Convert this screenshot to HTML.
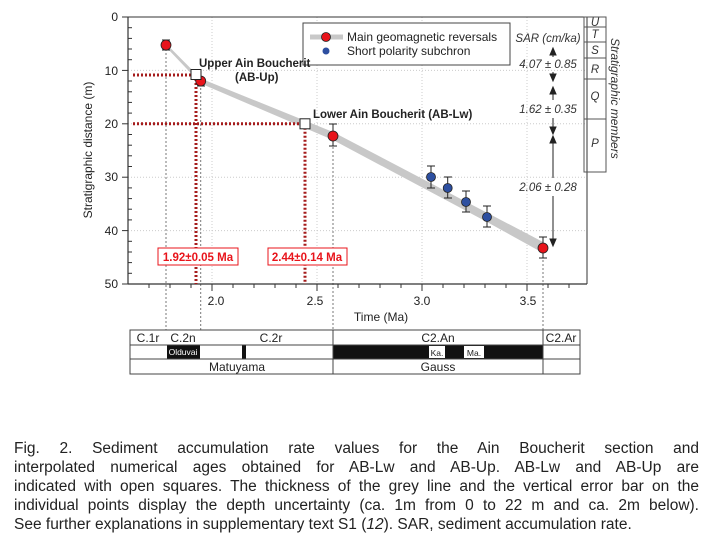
<!DOCTYPE html><html><head><meta charset="utf-8"><style>
body{margin:0;background:#fff;width:704px;height:554px;overflow:hidden;font-family:"Liberation Sans",sans-serif}
.cap{position:absolute;left:14px;width:685px;font-size:15.5px;color:#222;line-height:19px}
.cap div{text-align:justify;text-align-last:justify;white-space:nowrap}
.cap div.l{text-align-last:left}
</style></head><body>
<svg width="704" height="430" style="position:absolute;left:0;top:0" font-family="Liberation Sans, sans-serif">
<g stroke="#ccc" stroke-dasharray="1,2" stroke-width="1">
<line x1="128" y1="70.4" x2="587" y2="70.4"/><line x1="128" y1="123.8" x2="587" y2="123.8"/><line x1="128" y1="177.2" x2="587" y2="177.2"/><line x1="128" y1="230.6" x2="587" y2="230.6"/>
<line x1="212" y1="17" x2="212" y2="284"/><line x1="317" y1="17" x2="317" y2="284"/><line x1="422" y1="17" x2="422" y2="284"/><line x1="527" y1="17" x2="527" y2="284"/>
</g>
<g stroke="#777" stroke-dasharray="2,2" stroke-width="1">
<line x1="166" y1="45" x2="166" y2="330"/><line x1="200.7" y1="80" x2="200.7" y2="330"/><line x1="333" y1="135" x2="333" y2="330"/><line x1="543" y1="248" x2="543" y2="330"/>
</g>
<line x1="128" y1="17" x2="128" y2="284" stroke="#333" stroke-width="1.2"/>
<line x1="128" y1="284" x2="587" y2="284" stroke="#333" stroke-width="1.2"/>
<line x1="587" y1="17" x2="587" y2="284" stroke="#333" stroke-width="1"/>
<line x1="128" y1="17" x2="587" y2="17" stroke="#333" stroke-width="1"/>
<g stroke="#333" stroke-width="1">
<line x1="122" y1="17" x2="128" y2="17"/><line x1="122" y1="70.4" x2="128" y2="70.4"/><line x1="122" y1="123.8" x2="128" y2="123.8"/><line x1="122" y1="177.2" x2="128" y2="177.2"/><line x1="122" y1="230.6" x2="128" y2="230.6"/><line x1="122" y1="284" x2="128" y2="284"/>
<line x1="128" y1="27.7" x2="132" y2="27.7"/><line x1="128" y1="38.4" x2="132" y2="38.4"/><line x1="128" y1="49" x2="132" y2="49"/><line x1="128" y1="59.7" x2="132" y2="59.7"/>
<line x1="128" y1="81" x2="132" y2="81"/><line x1="128" y1="91.8" x2="132" y2="91.8"/><line x1="128" y1="102.4" x2="132" y2="102.4"/><line x1="128" y1="113.1" x2="132" y2="113.1"/>
<line x1="128" y1="134.5" x2="132" y2="134.5"/><line x1="128" y1="145.2" x2="132" y2="145.2"/><line x1="128" y1="155.8" x2="132" y2="155.8"/><line x1="128" y1="166.5" x2="132" y2="166.5"/>
<line x1="128" y1="187.9" x2="132" y2="187.9"/><line x1="128" y1="198.6" x2="132" y2="198.6"/><line x1="128" y1="209.2" x2="132" y2="209.2"/><line x1="128" y1="219.9" x2="132" y2="219.9"/>
<line x1="128" y1="241.3" x2="132" y2="241.3"/><line x1="128" y1="252" x2="132" y2="252"/><line x1="128" y1="262.6" x2="132" y2="262.6"/><line x1="128" y1="273.3" x2="132" y2="273.3"/>
<line x1="212" y1="284" x2="212" y2="291"/><line x1="317" y1="284" x2="317" y2="291"/><line x1="422" y1="284" x2="422" y2="291"/><line x1="527" y1="284" x2="527" y2="291"/>
<line x1="149" y1="284" x2="149" y2="288"/><line x1="170" y1="284" x2="170" y2="288"/><line x1="191" y1="284" x2="191" y2="288"/><line x1="233" y1="284" x2="233" y2="288"/><line x1="254" y1="284" x2="254" y2="288"/><line x1="275" y1="284" x2="275" y2="288"/><line x1="296" y1="284" x2="296" y2="288"/><line x1="338" y1="284" x2="338" y2="288"/><line x1="359" y1="284" x2="359" y2="288"/><line x1="380" y1="284" x2="380" y2="288"/><line x1="401" y1="284" x2="401" y2="288"/><line x1="443" y1="284" x2="443" y2="288"/><line x1="464" y1="284" x2="464" y2="288"/><line x1="485" y1="284" x2="485" y2="288"/><line x1="506" y1="284" x2="506" y2="288"/><line x1="548" y1="284" x2="548" y2="288"/><line x1="569" y1="284" x2="569" y2="288"/>
</g>
<g font-size="12" fill="#222" text-anchor="end">
<text x="118" y="21">0</text><text x="118" y="75">10</text><text x="118" y="128">20</text><text x="118" y="181">30</text><text x="118" y="235">40</text><text x="118" y="288">50</text>
</g>
<g font-size="12" fill="#222" text-anchor="middle">
<text x="216" y="305">2.0</text><text x="315" y="305">2.5</text><text x="422" y="305">3.0</text><text x="528" y="305">3.5</text>
<text x="381" y="321">Time (Ma)</text>
</g>
<text transform="translate(92,150) rotate(-90)" font-size="12" fill="#222" text-anchor="middle">Stratigraphic distance (m)</text>
<polygon points="166,43.5 200.7,78.5 333,132 543,242 543,253 487,222 333,140 200.7,83.5 166,47" fill="#c8c8c8"/>
<g stroke="#a51c1c" stroke-width="3" stroke-dasharray="2,2">
<line x1="133" y1="75" x2="196" y2="75"/><line x1="196" y1="75" x2="196" y2="284"/>
<line x1="133" y1="123.8" x2="305" y2="123.8"/><line x1="305" y1="123.8" x2="305" y2="284"/>
</g>
<g stroke="#222" stroke-width="1">
<line x1="166" y1="40" x2="166" y2="50"/><line x1="162" y1="40" x2="170" y2="40"/><line x1="162" y1="50" x2="170" y2="50"/>
<line x1="200.7" y1="76" x2="200.7" y2="86"/><line x1="197" y1="86" x2="205" y2="86"/>
<line x1="333" y1="124" x2="333" y2="146"/><line x1="329" y1="124" x2="337" y2="124"/><line x1="329" y1="146" x2="337" y2="146"/>
<line x1="431" y1="166" x2="431" y2="188"/><line x1="427" y1="166" x2="435" y2="166"/><line x1="427" y1="188" x2="435" y2="188"/>
<line x1="447.7" y1="177" x2="447.7" y2="198"/><line x1="444" y1="177" x2="452" y2="177"/><line x1="444" y1="198" x2="452" y2="198"/>
<line x1="466" y1="191" x2="466" y2="212"/><line x1="462" y1="191" x2="470" y2="191"/><line x1="462" y1="212" x2="470" y2="212"/>
<line x1="487" y1="206" x2="487" y2="227"/><line x1="483" y1="206" x2="491" y2="206"/><line x1="483" y1="227" x2="491" y2="227"/>
<line x1="543" y1="237" x2="543" y2="258"/><line x1="539" y1="237" x2="547" y2="237"/><line x1="539" y1="258" x2="547" y2="258"/>
</g>
<g stroke="#222" stroke-width="0.8">
<circle cx="166" cy="45" r="5" fill="#e8141b"/><circle cx="200.7" cy="81" r="5" fill="#e8141b"/><circle cx="333" cy="136" r="5" fill="#e8141b"/><circle cx="543" cy="248" r="5" fill="#e8141b"/>
<circle cx="431" cy="177" r="4.5" fill="#2d4fa0"/><circle cx="447.7" cy="188" r="4.5" fill="#2d4fa0"/><circle cx="466" cy="202" r="4.5" fill="#2d4fa0"/><circle cx="487" cy="217" r="4.5" fill="#2d4fa0"/>
</g>
<rect x="191" y="69.5" width="10" height="10" fill="#fff" stroke="#222"/>
<rect x="300" y="118.8" width="10" height="10" fill="#fff" stroke="#222"/>
<rect x="158" y="248" width="80" height="17" fill="#fff" stroke="#e8141b"/>
<text x="198" y="261" font-size="11.5" font-weight="bold" fill="#e8141b" text-anchor="middle">1.92±0.05 Ma</text>
<rect x="268" y="248" width="79" height="17" fill="#fff" stroke="#e8141b"/>
<text x="307" y="261" font-size="11.5" font-weight="bold" fill="#e8141b" text-anchor="middle">2.44±0.14 Ma</text>
<rect x="303" y="23" width="207" height="42" fill="#fff" stroke="#444"/>
<line x1="310" y1="37" x2="343" y2="37" stroke="#c8c8c8" stroke-width="5"/>
<circle cx="326" cy="37" r="4.5" fill="#e8141b" stroke="#222" stroke-width="0.8"/>
<circle cx="326" cy="51" r="3.5" fill="#2d4fa0"/>
<text x="347" y="41" font-size="12" fill="#222">Main geomagnetic reversals</text>
<text x="347" y="55" font-size="12" fill="#222">Short polarity subchron</text>
<g font-size="11.5" font-weight="bold" fill="#222">
<text x="199" y="67">Upper Ain Boucherit</text><text x="235" y="81">(AB-Up)</text>
<text x="313" y="118">Lower Ain Boucherit (AB-Lw)</text>
</g>
<g font-size="11.5" font-style="italic" fill="#333" text-anchor="middle">
<text x="548" y="42">SAR (cm/ka)</text>
<text x="548" y="68">4.07 ± 0.85</text>
<text x="548" y="113">1.62 ± 0.35</text>
<text x="548" y="191">2.06 ± 0.28</text>
</g>
<g stroke="#222" stroke-width="1" fill="#222">
<line x1="553" y1="52" x2="553" y2="57"/><line x1="553" y1="72" x2="553" y2="76"/>
<line x1="553" y1="92" x2="553" y2="100"/><line x1="553" y1="118" x2="553" y2="128"/>
<line x1="553" y1="140" x2="553" y2="178"/><line x1="553" y1="196" x2="553" y2="240"/>
<path d="M553,48 l-3,7 h6z M553,81 l-3,-7 h6z M553,87 l-3,7 h6z M553,134 l-3,-7 h6z M553,136 l-3,7 h6z M553,246 l-3,-7 h6z"/>
</g>
<g stroke="#555" fill="none" stroke-width="1">
<rect x="584" y="17" width="22" height="155"/>
<line x1="584" y1="27" x2="606" y2="27"/><line x1="584" y1="42" x2="606" y2="42"/><line x1="584" y1="58" x2="606" y2="58"/><line x1="584" y1="79" x2="606" y2="79"/><line x1="584" y1="119" x2="606" y2="119"/>
</g>
<g font-size="11.5" font-style="italic" fill="#333" text-anchor="middle">
<text x="595" y="26">U</text><text x="595" y="38">T</text><text x="595" y="54">S</text><text x="595" y="73">R</text><text x="595" y="100">Q</text><text x="595" y="147">P</text>
</g>
<text transform="translate(611,38) rotate(90)" font-size="12" font-style="italic" fill="#333">Stratigraphic members</text>
<rect x="167" y="345" width="33" height="14" fill="#111"/>
<rect x="242" y="345" width="4" height="14" fill="#111"/>
<rect x="333" y="345" width="210" height="14" fill="#111"/>
<rect x="429" y="346" width="16" height="12" fill="#fff"/>
<rect x="464" y="346" width="20" height="12" fill="#fff"/>
<g stroke="#444" fill="none" stroke-width="1">
<rect x="130" y="330" width="450" height="44"/>
<line x1="130" y1="345" x2="580" y2="345"/><line x1="130" y1="359" x2="580" y2="359"/>
<line x1="333" y1="330" x2="333" y2="374"/><line x1="543" y1="330" x2="543" y2="374"/>
</g>
<g font-size="12" fill="#222" text-anchor="middle">
<text x="148" y="342">C.1r</text><text x="183" y="342">C.2n</text><text x="271" y="342">C.2r</text><text x="438" y="342">C2.An</text><text x="561" y="342">C2.Ar</text>
<text x="237" y="371">Matuyama</text><text x="438" y="371">Gauss</text>
</g>
<text x="183" y="355" font-size="8.5" fill="#fff" text-anchor="middle">Olduvai</text>
<text x="437" y="356" font-size="8.5" fill="#222" text-anchor="middle">Ka.</text>
<text x="474" y="356" font-size="8.5" fill="#222" text-anchor="middle">Ma.</text>
</svg>
<div class="cap" style="top:439px">
<div>Fig. 2. Sediment accumulation rate values for the Ain Boucherit section and</div>
<div>interpolated numerical ages obtained for AB-Lw and AB-Up. AB-Lw and AB-Up are</div>
<div>indicated with open squares. The thickness of the grey line and the vertical error bar on the</div>
<div>individual points display the depth uncertainty (ca. 1m from 0 to 22 m and ca. 2m below).</div>
<div class="l">See further explanations in supplementary text S1 (<i>12</i>). SAR, sediment accumulation rate.</div>
</div>
</body></html>
